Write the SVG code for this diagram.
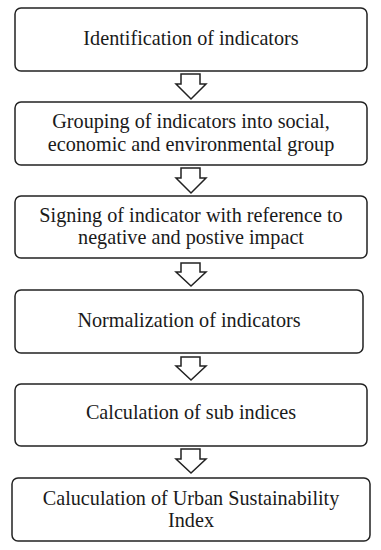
<svg xmlns="http://www.w3.org/2000/svg" width="381" height="550" viewBox="0 0 381 550">
<style>
.box{fill:#fff;stroke:#222;stroke-width:1.5}
.t{font-family:"Liberation Serif","DejaVu Serif",serif;font-size:20.2px;fill:#1a1a1a;text-anchor:middle}
.arr{fill:#fff;stroke:#222;stroke-width:1.5;stroke-linejoin:miter}
</style>
<rect width="381" height="550" fill="#fff"/>
<g id="connectors">
<path class="arr" d="M181,74 H200 V84 H206 L191,99 L176,84 H181 Z"/>
<path class="arr" d="M181,168 H200 V178 H206 L191,193 L176,178 H181 Z"/>
<path class="arr" d="M181,263 H200 V272 H206 L191,286 L176,272 H181 Z"/>
<path class="arr" d="M181,357 H200 V366 H206 L191,380 L176,366 H181 Z"/>
<path class="arr" d="M181,449 H200 V459 H206 L191,473 L176,459 H181 Z"/>
</g>
<g id="n1"><rect class="box" x="15" y="8" width="352" height="63" rx="6"/><text class="t" x="191" y="45">Identification of indicators</text></g>
<g id="n2"><rect class="box" x="15" y="102" width="352" height="63" rx="6"/><text class="t" x="191" y="128">Grouping of indicators into social,</text><text class="t" x="191" y="151">economic and environmental group</text></g>
<g id="n3"><rect class="box" x="15" y="196" width="352" height="62" rx="6"/><text class="t" x="191" y="222">Signing of indicator with reference to</text><text class="t" x="191" y="244">negative and postive impact</text></g>
<g id="n4"><rect class="box" x="15" y="290" width="348" height="63" rx="6"/><text class="t" x="189" y="327">Normalization of indicators</text></g>
<g id="n5"><rect class="box" x="15" y="384" width="352" height="62" rx="6"/><text class="t" x="191" y="419">Calculation of sub indices</text></g>
<g id="n6"><rect class="box" x="12" y="478" width="358" height="63" rx="6"/><text class="t" x="191" y="505">Caluculation of Urban Sustainability</text><text class="t" x="191" y="527">Index</text></g>
</svg>
